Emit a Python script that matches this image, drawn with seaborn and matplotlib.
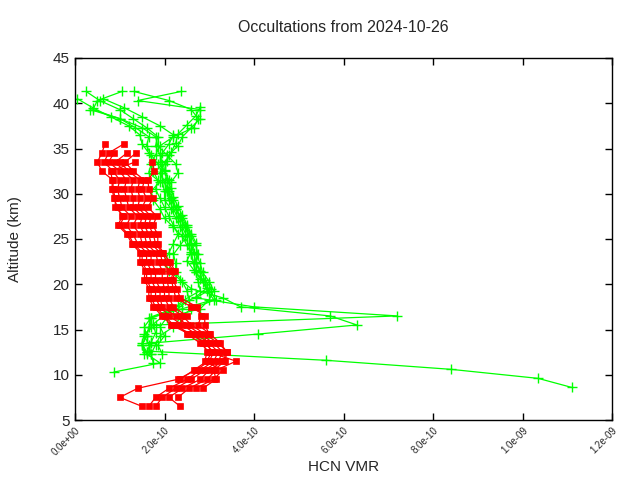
import numpy as np
import pandas as pd
import matplotlib
matplotlib.use("Agg")
import matplotlib.pyplot as plt
import seaborn as sns

# ---------------- data (VMR in units of 1e-10) ----------------
# red profiles: bottom altitude, values going upward (1 km step)
red_bottoms = [6.5, 6.5, 6.5, 6.5, 7.5, 8.5, 9.5, 8.5]
red_values = [
    [1.5, 1.0, 1.4, 2.3, 2.7, 3.0, 3.1, 2.9, 2.6, 2.2, 2.0, 1.8, 1.7, 1.7, 1.6, 1.6, 1.5, 1.5, 1.3, 1.2, 1.0, 1.1, 0.9, 0.9, 0.85, 0.85, 0.6, 0.5, 0.6, 0.67],
    [1.65, 1.8, 2.1, 2.5, 2.8, 3.1, 3.2, 3.0, 2.7, 2.4, 2.1, 1.9, 1.8, 1.8, 1.7, 1.7, 1.6, 1.6, 1.4, 1.3, 1.15, 1.25, 1.05, 1.0, 0.95, 1.0, 0.85, 0.65, 0.75, 1.09],
    [1.8, 1.95, 2.25, 2.6, 2.9, 3.2, 3.3, 3.1, 2.8, 2.5, 2.25, 1.95, 1.9, 1.9, 1.8, 1.8, 1.7, 1.7, 1.5, 1.45, 1.3, 1.4, 1.2, 1.15, 1.1, 1.15, 1.0, 0.75, 0.87],
    [2.35, 2.1, 2.4, 2.8, 3.0, 3.3, 3.4, 3.2, 2.9, 2.6, 2.4, 2.1, 2.0, 2.0, 1.95, 1.95, 1.85, 1.8, 1.6, 1.55, 1.45, 1.5, 1.3, 1.3, 1.25, 1.3, 1.1, 0.9, 1.16],
    [2.3, 2.55, 2.95, 3.15, 3.6, 3.0, 2.8, 2.5, 2.3, 2.5, 2.2, 2.1, 2.1, 2.05, 2.1, 1.95, 1.9, 1.7, 1.65, 1.55, 1.6, 1.4, 1.45, 1.4, 1.45, 1.2, 1.0],
    [2.7, 3.1, 3.3, 2.9, 2.95, 2.85, 3.0, 2.9, 2.9, 2.6, 2.25, 2.2, 2.15, 2.2, 2.05, 1.95, 1.8, 1.75, 1.65, 1.7, 1.5, 1.6, 1.5, 1.55, 1.3, 1.12, 1.36],
    [2.35, 2.65, 2.95, 3.05, 2.95, 2.55, 2.15, 1.95, 1.75, 1.65, 1.65, 1.55, 1.56, 1.45, 1.45, 1.27, 1.16, 0.96, 1.05, 0.95, 0.87, 0.83, 0.83, 0.8, 1.34],
    [2.86, 3.15, 3.1, 3.35, 3.4, 3.24, 3.02, 2.75, 2.82, 2.73, 2.35, 2.28, 2.19, 2.23, 2.12, 1.97, 1.85, 1.85, 1.74, 1.83, 1.63, 1.74, 1.65, 1.63, 1.77, 1.72],
]

# green profiles: top altitude, values going downward (1 km step)
green_tops = [41.3, 41.3, 41.3, 41.3, 40.5, 40.5, 39.3, 39.6]
green_values = [
    [0.25, 0.55, 1.0, 1.3, 1.6, 1.85, 1.8, 1.9, 1.95, 1.9, 2.0, 2.05, 2.1, 2.2, 2.3, 2.4, 2.5, 2.35, 2.2, 2.25, 2.25, 2.4, 2.5, 2.55, 2.3, 1.7, 1.55, 1.6, 1.5, 1.55],
    [1.05, 0.5, 0.4, 1.0, 1.35, 1.65, 1.6, 1.7, 1.85, 1.95, 1.95, 2.0, 2.0, 2.15, 2.25, 2.35, 2.45, 2.55, 2.6, 2.65, 2.7, 2.75, 2.8, 2.45, 2.2, 1.65, 1.7, 1.55, 1.65, 1.7, 1.75],
    [1.32, 2.1, 2.6, 2.75, 2.65, 2.2, 1.9, 1.8, 1.7, 1.65, 1.9, 1.7, 1.75, 1.9, 2.0, 2.2, 2.4, 2.5, 2.6, 2.65, 2.7, 2.9, 3.0, 3.15, 2.6, 2.35, 2.2, 1.9, 1.8, 1.7],
    [2.37, 1.4, 2.8, 2.8, 2.6, 2.4, 2.3, 2.1, 2.0, 1.9, 2.0, 2.1, 2.2, 2.25, 2.35, 2.45, 2.55, 2.6, 2.7, 2.8, 2.85, 3.0, 3.1, 3.0, 2.8, 2.05, 1.9, 2.0, 1.85, 1.95],
    [0.05, 0.4, 0.8, 1.2, 1.45, 1.5, 1.65, 1.75, 1.75, 1.85, 1.8, 1.9, 2.0, 2.1, 2.2, 2.3, 2.2, 2.1, 2.0, 2.1, 2.35, 2.6, 3.3, 3.7, 5.7, 6.3, 4.1, 1.7, 1.6],
    [0.63, 1.1, 1.5, 1.9, 2.2, 2.1, 1.95, 1.9, 2.0, 2.1, 2.05, 2.15, 2.25, 2.35, 2.45, 2.55, 2.6, 2.65, 2.7, 2.8, 2.9, 3.05, 2.7, 4.0, 7.2, 1.8, 1.55, 1.5, 1.6],
    [0.34, 1.0, 1.5, 1.8, 1.85, 2.05, 2.25, 2.3, 2.15, 2.05, 2.15, 2.25, 2.4, 2.5, 2.6, 2.7, 2.75, 2.7, 2.8, 2.85, 2.95, 3.1, 2.4, 1.7, 1.65, 1.6, 1.5, 1.6, 1.9, 0.87],
    [2.8, 2.7, 2.5, 2.3, 2.25, 2.15, 2.05, 2.0, 2.05, 2.15, 2.2, 2.3, 2.4, 2.5, 2.6, 2.7, 2.6, 2.5, 2.65, 2.8, 2.95, 2.7, 2.3, 2.0, 1.75, 1.8, 1.7, 1.65, 5.6, 8.4, 10.35, 11.1],
]

x_ticks = [0.0, 2e-10, 4e-10, 6e-10, 8e-10, 1e-9, 1.2e-9]
x_tick_labels = ["0.0e+00", "2.0e-10", "4.0e-10", "6.0e-10", "8.0e-10", "1.0e-09", "1.2e-09"]
y_ticks = [5, 10, 15, 20, 25, 30, 35, 40, 45]

title = "Occultations from 2024-10-26"
xlabel = "HCN VMR"
ylabel = "Altitude (km)"

# ---------------- build tables ----------------
rows = []
for i, (b, vals) in enumerate(zip(red_bottoms, red_values)):
    for k, v in enumerate(vals):
        rows.append({"profile": i, "alt": b + k, "vmr": v * 1e-10})
red_df = pd.DataFrame(rows)

rows = []
for i, (t, vals) in enumerate(zip(green_tops, green_values)):
    for k, v in enumerate(vals):
        rows.append({"profile": i, "alt": t - k, "vmr": v * 1e-10})
green_df = pd.DataFrame(rows)

# ---------------- plot ----------------
sns.set_theme(style="white")
plt.rcParams["font.family"] = ["Liberation Sans", "DejaVu Sans"]

fig = plt.figure(figsize=(6.4, 4.8), dpi=100)
ax = fig.add_axes([75 / 640, 1 - 420 / 480, (612 - 75) / 640, (420 - 58) / 480])

sns.lineplot(data=green_df, x="vmr", y="alt", units="profile", estimator=None,
             sort=False, color="#00ff00", marker="+", markersize=7,
             markeredgewidth=1.0, markeredgecolor="#00ff00", markerfacecolor="#00ff00",
             linewidth=0.9, ax=ax, legend=False)
sns.lineplot(data=red_df, x="vmr", y="alt", units="profile", estimator=None,
             sort=False, color="#ff0000", marker="s", markersize=5,
             markeredgewidth=0.5, markeredgecolor="#ff0000", markerfacecolor="#ff0000",
             linewidth=0.9, ax=ax, legend=False)

ax.set_xlim(0, 1.2e-9)
ax.set_ylim(5, 45)
ax.set_xticks(x_ticks)
ax.set_xticklabels(x_tick_labels, rotation=45, ha="right", rotation_mode="anchor",
                   fontsize=7)
ax.set_yticks(y_ticks)
ax.set_yticklabels([str(v) for v in y_ticks], fontsize=11)
ax.tick_params(direction="in", length=5, width=1, top=True, right=True,
               bottom=True, left=True, color="black", pad=4)
for s in ax.spines.values():
    s.set_color("black")
    s.set_linewidth(1)
ax.set_xlabel(xlabel, fontsize=11, labelpad=2)
ax.set_ylabel(ylabel, fontsize=11, labelpad=22)
ax.set_title(title, fontsize=11.5, pad=19)
ax.grid(False)

fig.savefig("out.png", dpi=100)
